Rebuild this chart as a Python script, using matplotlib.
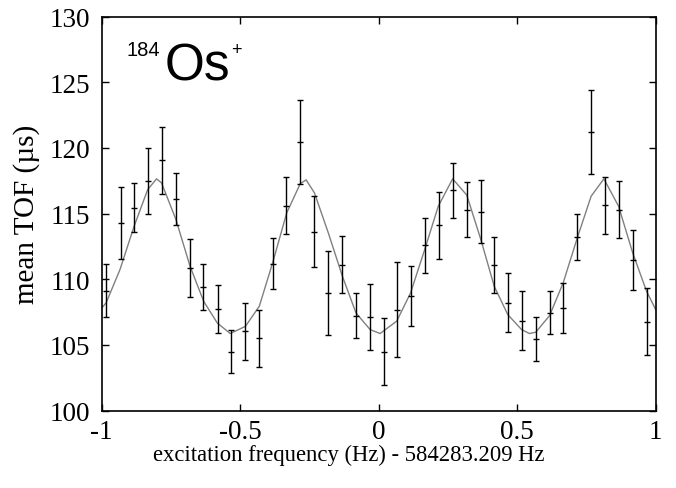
import matplotlib
matplotlib.use("Agg")
import matplotlib.pyplot as plt

# measured points
freq = [-0.985, -0.932, -0.882, -0.832, -0.782, -0.733, -0.681, -0.633, -0.581, -0.533,
        -0.481, -0.431, -0.383, -0.333, -0.283, -0.232, -0.182, -0.131, -0.082, -0.031,
        0.018, 0.067, 0.117, 0.167, 0.218, 0.268, 0.318, 0.369, 0.417, 0.468,
        0.516, 0.567, 0.617, 0.666, 0.717, 0.767, 0.817, 0.866, 0.917, 0.967]
tof = [109.13, 114.29, 115.45, 117.46, 119.06, 116.09, 110.88, 109.38, 107.74, 104.49,
       106.03, 105.50, 111.17, 115.60, 120.48, 113.62, 108.93, 111.11, 107.23, 107.15,
       104.49, 107.69, 108.73, 112.58, 114.10, 116.77, 115.30, 115.15, 111.09, 108.20,
       106.85, 105.45, 107.46, 107.78, 113.19, 121.19, 115.63, 115.28, 111.47, 106.77]
tof_err = [2.00, 2.74, 1.87, 2.53, 2.55, 2.00, 2.20, 1.74, 1.85, 1.65,
           2.17, 2.16, 1.93, 2.17, 3.20, 2.72, 3.20, 2.15, 1.70, 2.52,
           2.54, 3.62, 2.30, 2.10, 2.55, 2.08, 2.08, 2.39, 2.15, 2.26,
           2.27, 1.67, 1.65, 1.90, 1.74, 3.20, 2.17, 2.16, 2.28, 2.56]

# fitted curve
fit_x = [-1.0, -0.984, -0.934, -0.883, -0.834, -0.802, -0.784, -0.732, -0.681, -0.632,
         -0.583, -0.536, -0.481, -0.431, -0.383, -0.332, -0.283, -0.262, -0.232, -0.182,
         -0.131, -0.082, -0.031, 0.005, 0.065, 0.115, 0.166, 0.215, 0.267, 0.318,
         0.369, 0.417, 0.466, 0.516, 0.544, 0.567, 0.617, 0.666, 0.717, 0.767,
         0.813, 0.866, 0.917, 0.967, 1.0]
fit_y = [107.8, 108.2, 110.73, 114.03, 116.82, 117.64, 117.33, 114.54, 110.98, 108.32,
         106.67, 105.86, 106.41, 107.94, 111.24, 115.05, 117.28, 117.56, 116.57, 113.53,
         110.22, 107.43, 106.16, 105.86, 106.8, 108.95, 112.25, 115.55, 117.64, 116.4,
         113.0, 109.46, 107.3, 106.16, 105.86, 105.96, 107.23, 109.72, 113.15, 116.32,
         117.64, 115.55, 112.0, 109.08, 107.68]

xticks = [-1, -0.5, 0, 0.5, 1]
xticklabels = ["-1", "-0.5", "0", "0.5", "1"]
yticks = [100, 105, 110, 115, 120, 125, 130]

W, H = 676, 489
fig = plt.figure(figsize=(W / 100, H / 100), dpi=100)
ax = fig.add_axes([101.7 / W, 1 - 411.5 / H, 554 / W, 394 / H])

ax.plot(fit_x, fit_y, color="#808080", lw=1.0, zorder=2, solid_joinstyle="round")
ax.errorbar(freq, tof, yerr=tof_err, fmt="_", color="black", ms=4, mew=1.0,
            elinewidth=1.0, capsize=2.2, capthick=1.0, zorder=3)

ax.set_xlim(-1, 1)
ax.set_ylim(100, 130)
ax.set_xticks(xticks)
ax.set_xticklabels(xticklabels)
ax.set_yticks(yticks)

serif = ["Liberation Serif", "DejaVu Serif"]
ax.tick_params(direction="in", top=True, right=True, length=5, width=1.0,
               labelsize=19.5, pad=6)
ax.tick_params(axis="y", pad=8)
for lab in ax.get_xticklabels() + ax.get_yticklabels():
    lab.set_family(serif)
for s in ax.spines.values():
    s.set_linewidth(1.2)

ax.set_xlabel("excitation frequency (Hz) - 584283.209 Hz", family=serif, fontsize=16.3)
ax.xaxis.set_label_coords(0.446, -0.085)
ax.set_ylabel("mean TOF (µs)", family=serif, fontsize=21)
ax.yaxis.set_label_coords(-0.112, 0.5)

sans = ["Liberation Sans", "DejaVu Sans"]
ax.annotate("184", xy=(127, H - 56), xycoords="figure pixels", family=sans,
            fontsize=14.5, va="baseline", ha="left")
ax.annotate("Os", xy=(165, H - 81), xycoords="figure pixels", family=sans,
            fontsize=37, va="baseline", ha="left")
ax.annotate("+", xy=(231, H - 55), xycoords="figure pixels", family=sans,
            fontsize=13, va="baseline", ha="left")

fig.savefig("out.png", dpi=100)
